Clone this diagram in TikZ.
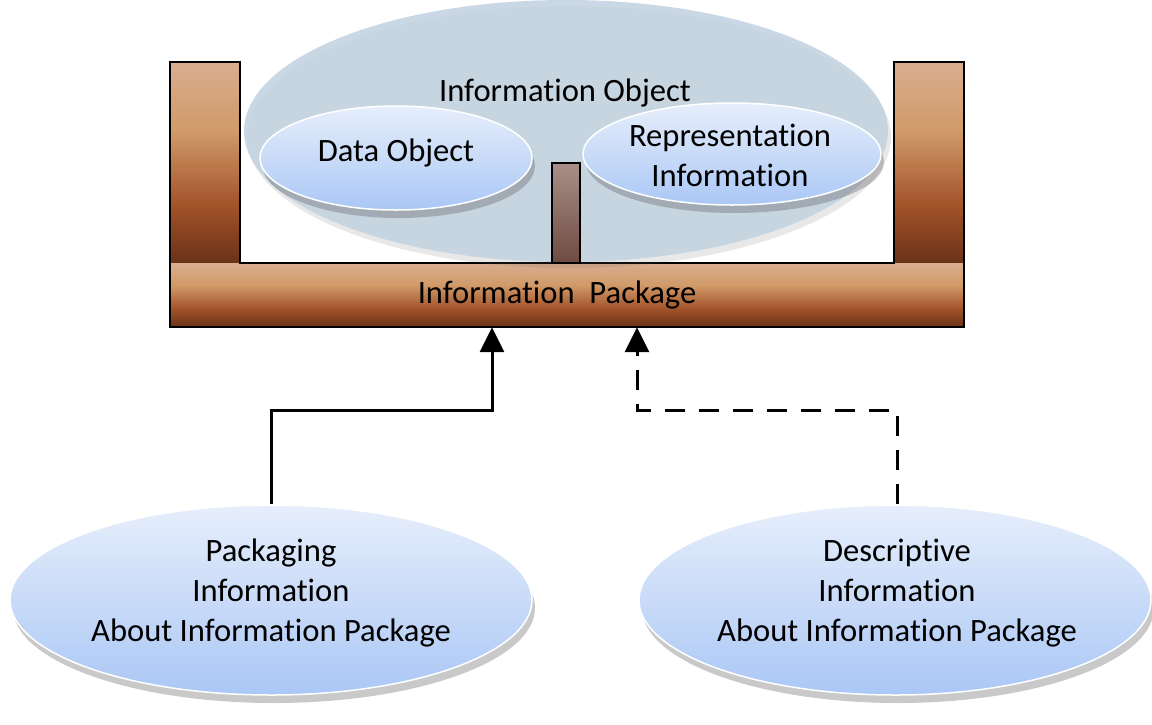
\documentclass[tikz,border=0pt]{standalone}
\usepackage{fontspec}
\setmainfont{Carlito}[Ligatures=NoCommon]
\usetikzlibrary{shapes.geometric,shadows,arrows.meta}
\definecolor{brA}{HTML}{D9AD90}
\definecolor{brB}{HTML}{D19B69}
\definecolor{brC}{HTML}{A4552B}
\definecolor{brD}{HTML}{6A3218}
\definecolor{blA}{HTML}{E6EEFB}
\definecolor{blB}{HTML}{C9DBF8}
\definecolor{blC}{HTML}{AAC7F6}
\definecolor{bigc}{HTML}{C4D3E1}
\definecolor{midA}{HTML}{A89088}
\definecolor{midB}{HTML}{6E4A42}
\pgfdeclareverticalshading{brownsh}{100bp}{color(0bp)=(brD); color(25bp)=(brD); color(40bp)=(brC); color(58bp)=(brB); color(75bp)=(brA); color(100bp)=(brA)}
\pgfdeclareverticalshading{bluesh}{100bp}{color(0bp)=(blC); color(25bp)=(blC); color(50bp)=(blB); color(75bp)=(blA); color(100bp)=(blA)}
\pgfdeclareverticalshading{midsh}{100bp}{color(0bp)=(midB); color(25bp)=(midB); color(75bp)=(midA); color(100bp)=(midA)}
\tikzset{
  bluebox/.style={ellipse, inner sep=0pt, shading=bluesh, draw=white, line width=1.5pt,
    drop shadow={shadow xshift=3pt, shadow yshift=-8pt, opacity=0.3, fill=black!70}},
  conn/.style={line width=3pt, -{Triangle[width=24pt,length=25pt]}},
  dashconn/.style={conn, dash pattern=on 20pt off 14pt},
  txt/.style={align=center, inner sep=0pt}
}
\begin{document}
\begin{tikzpicture}[x=1pt,y=-1pt,font=\fontsize{32.6}{40}\selectfont]
\useasboundingbox (0,0) rectangle (1152,724);
% brown frame
\shade[shading=brownsh] (170,62) rectangle (240,263);
\shade[shading=brownsh] (894,62) rectangle (964,263);
\node[rectangle, inner sep=0pt, minimum width=794pt, minimum height=64pt, shading=brownsh] (pkg) at (567,295) {};
\draw[line width=1.2pt, line join=miter] (552,263) -- (240,263) -- (240,62) -- (170,62) -- (170,327) -- (964,327) -- (964,62) -- (894,62) -- (894,263) -- (580,263);
\node[txt] at (557,295) {Information\ \ Package};
% information object
\node[ellipse, inner sep=0pt, minimum width=644pt, minimum height=262pt, fill=bigc, fill opacity=0.9,
  drop shadow={shadow xshift=3pt, shadow yshift=-6pt, opacity=0.15, fill=black!60}] (io) at (566,131) {};
\node[txt] at (565,93) {Information Object};
\node[rectangle, draw, line width=1.2pt, minimum width=28pt, minimum height=100pt, inner sep=0pt, shading=midsh] (mid) at (566,213) {};
\node[bluebox, minimum width=272pt, minimum height=104pt] (dobj) at (396,158) {};
\node[txt] at (396,153) {Data Object};
\node[bluebox, minimum width=298pt, minimum height=102pt] (rep) at (732,154) {};
\node[txt] at (730,155) {Representation\\Information};
% bottom ellipses
\node[bluebox, minimum width=522pt, minimum height=190pt] (pack) at (271,600) {};
\node[txt] at (271,593) {Packaging\\Information\\About Information Package};
\node[bluebox, minimum width=512pt, minimum height=190pt] (desc) at (895,600) {};
\node[txt] at (897,593) {Descriptive\\Information\\About Information Package};
% connectors
\coordinate (s1) at (492,410);
\coordinate (s2) at (637,410);
\draw[conn] (pack.north) |- (s1) -- (s1 |- pkg.south);
\draw[dashconn] ([xshift=2pt]desc.north) |- (s2) -- (s2 |- pkg.south);
\end{tikzpicture}
\end{document}
